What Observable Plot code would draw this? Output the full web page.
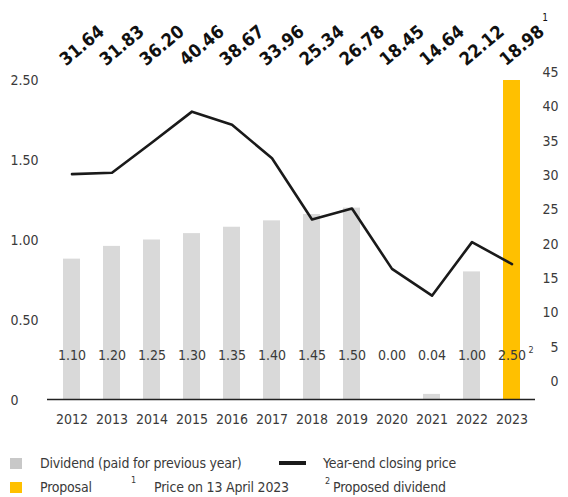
<!DOCTYPE html>
<html><head><meta charset="utf-8">
<script src="https://cdn.jsdelivr.net/npm/d3@7"></script>
<script src="https://cdn.jsdelivr.net/npm/@observablehq/plot@0.6"></script>
<style>
body{margin:0;background:#fff;}
#wrap{position:relative;width:568px;height:497px;font-family:"DejaVu Sans Condensed",sans-serif;color:#3a3a3a;}
#wrap svg{position:absolute;left:0;top:0;overflow:visible;}
.lg{position:absolute;font-size:14px;line-height:15px;white-space:nowrap;letter-spacing:-0.2px;}
.sq{position:absolute;width:12px;height:11px;}
.sup{position:absolute;font-size:9px;line-height:10px;}
</style></head><body><div id="wrap"></div>
<script>
const years = ["2012","2013","2014","2015","2016","2017","2018","2019","2020","2021","2022","2023"];
const dividends = [1.10,1.20,1.25,1.30,1.35,1.40,1.45,1.50,0.00,0.04,1.00,2.50];
const dividendLabels = ["1.10","1.20","1.25","1.30","1.35","1.40","1.45","1.50","0.00","0.04","1.00","2.50"];
const priceLabels = ["31.64","31.83","36.20","40.46","38.67","33.96","25.34","26.78","18.45","14.64","22.12","18.98"];
const closingPrice = [30.2,30.4,34.8,39.3,37.4,32.5,23.6,25.2,16.4,12.5,20.3,17.1];
const barType = ["Dividend (paid for previous year)","Dividend (paid for previous year)","Dividend (paid for previous year)","Dividend (paid for previous year)","Dividend (paid for previous year)","Dividend (paid for previous year)","Dividend (paid for previous year)","Dividend (paid for previous year)","Dividend (paid for previous year)","Dividend (paid for previous year)","Dividend (paid for previous year)","Proposal"];
const leftTicks = ["2.50","1.50","1.00","0.50","0"];
const rightTicks = [0,5,10,15,20,25,30,35,40,45];
const seriesNames = ["Dividend (paid for previous year)","Proposal"];
const seriesColors = ["#d9d9d9","#ffc000"];

const rows = years.map((y,i)=>({year:y, div:dividends[i], divLabel:dividendLabels[i], priceLabel:priceLabels[i], price:closingPrice[i], type:barType[i]}));
const last = rows.slice(-1);

const W = 568, H = 440;
const font = '"DejaVu Sans Condensed",sans-serif';
const style = {fontFamily: font, fontSize: "14px", color: "#3a3a3a", background: "transparent", overflow: "visible"};
const xOpts = {type:"band", domain: years, paddingInner:0.58, paddingOuter:0.3, align:0.5};
const TOP_ANGLE = -40;

const wrap = document.getElementById("wrap");

const bars = Plot.plot({
  width: W, height: H, marginTop: 80, marginBottom: 41, marginLeft: 47, marginRight: 33,
  style,
  x: {...xOpts},
  y: {domain:[0,2.5], axis:null},
  color: {domain: seriesNames, range: seriesColors},
  marks: [
    Plot.barY(rows, {x:"year", y:"div", fill:"type"}),
    Plot.ruleY([0], {stroke:"#222", strokeWidth:1.5}),
    Plot.axisX({tickSize:0, tickPadding:15, fontSize:14, label:null}),
    Plot.text(rows, {x:"year", text:"divLabel", frameAnchor:"bottom", dy:-40, fontSize:14, fill:"#3a3a3a"}),
    Plot.text(last, {x:"year", text:()=>"2", frameAnchor:"bottom", dy:-47, dx:19, fontSize:9, fill:"#3a3a3a"}),
    Plot.text(last, {x:"year", text:()=>"1", frameAnchor:"top", dx:33, dy:-67, fontSize:10, fill:"#111"})
  ]
});
wrap.appendChild(bars);

const tops = Plot.plot({
  width: W, height: H, marginTop: 45, marginBottom: 41, marginLeft: 47, marginRight: 33,
  style,
  x: {...xOpts, axis:null},
  marks: [
    Plot.text(rows, {x:"year", text:"priceLabel", frameAnchor:"top", dx:10, rotate:TOP_ANGLE, textAnchor:"middle", lineAnchor:"middle", fontWeight:"bold", fontSize:18, fill:"#111"})
  ]
});
wrap.appendChild(tops);

const left = Plot.plot({
  width: W, height: H, marginTop: 79, marginBottom: 39, marginLeft: 47, marginRight: 33,
  style,
  y: {type:"point", domain:leftTicks, padding:0},
  marks: [
    Plot.axisY({anchor:"left", tickSize:0, tickPadding:37, textAnchor:"start", fontSize:14, label:null})
  ]
});
wrap.appendChild(left);

const line = Plot.plot({
  width: W, height: H, marginTop: 72, marginBottom: 59, marginLeft: 47, marginRight: 33,
  style,
  x: {...xOpts, axis:null},
  y: {domain:[0,45], axis:null},
  marks: [
    Plot.line(rows, {x:"year", y:"price", stroke:"#1a1a1a", strokeWidth:2.6}),
    Plot.axisY(rightTicks, {anchor:"right", tickSize:0, tickPadding:23, textAnchor:"end", fontSize:14, label:null})
  ]
});
wrap.appendChild(line);

const legendItems = [
  {cls:"sq", left:10, top:458, bg:"#c8c8c8"},
  {cls:"lg", left:40, top:456, text:seriesNames[0]},
  {cls:"sq", left:279, top:461, w:27, h:4, bg:"#1a1a1a"},
  {cls:"lg", left:323, top:456, text:"Year-end closing price"},
  {cls:"sq", left:10, top:482, bg:seriesColors[1]},
  {cls:"lg", left:40, top:480, text:seriesNames[1]},
  {cls:"sup", left:131, top:475, text:"1"},
  {cls:"lg", left:154, top:480, text:"Price on 13 April 2023"},
  {cls:"sup", left:325, top:476, text:"2"},
  {cls:"lg", left:333, top:480, text:"Proposed dividend"}
];
for (const it of legendItems) {
  const d = document.createElement("div");
  d.className = it.cls;
  d.style.left = it.left + "px";
  d.style.top = it.top + "px";
  if (it.bg) d.style.background = it.bg;
  if (it.w) d.style.width = it.w + "px";
  if (it.h) d.style.height = it.h + "px";
  if (it.text) d.textContent = it.text;
  wrap.appendChild(d);
}
</script></body></html>
